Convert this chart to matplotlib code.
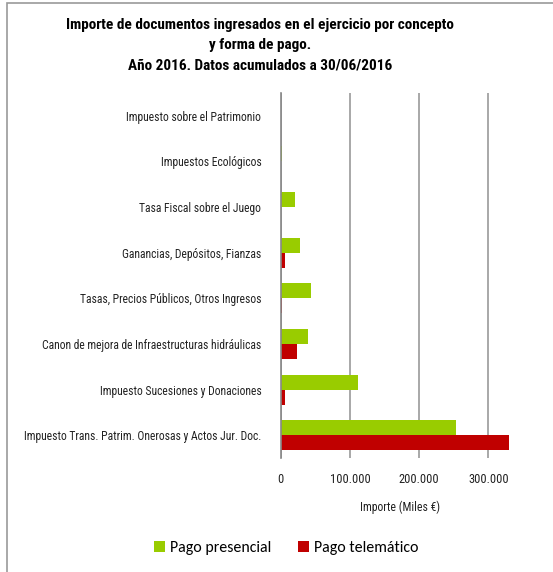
import matplotlib
matplotlib.use("Agg")
import matplotlib.pyplot as plt
from matplotlib.patches import Rectangle
import numpy as np

categories = [
    "Impuesto Trans. Patrim. Onerosas y Actos Jur. Doc.",
    "Impuesto Sucesiones y Donaciones",
    "Canon de mejora de Infraestructuras hidráulicas",
    "Tasas, Precios Públicos, Otros Ingresos",
    "Ganancias, Depósitos, Fianzas",
    "Tasa Fiscal sobre el Juego",
    "Impuestos Ecológicos",
    "Impuesto sobre el Patrimonio",
]
pago_presencial = [253300, 111700, 40000, 44300, 27500, 20700, 1500, 400]
pago_telematico = [330000, 6700, 23100, 2000, 6700, 500, 200, 100]
xticks = [0, 100000, 200000, 300000]
xtick_labels = ["0", "100.000", "200.000", "300.000"]

narrow = ["Roboto Condensed", "Liberation Sans", "DejaVu Sans"]
legend_font = ["Carlito", "Open Sans", "DejaVu Sans"]

fig = plt.figure(figsize=(5.53, 5.72), dpi=100)
fig.patches.append(Rectangle((7/553, -0.1), 2.0, 1.1 - 3/572, transform=fig.transFigure,
                             fill=False, edgecolor="#999999", linewidth=1.2))

ax = fig.add_axes([280.7/553, 1 - 458/572, 242.2/553, 365/572])
y = np.arange(len(categories))
h = 0.33
ax.barh(y + h/2, pago_presencial, height=h, color="#99CC00", label="Pago presencial")
ax.barh(y - h/2, pago_telematico, height=h, color="#C00000", label="Pago telemático")
ax.set_xlim(0, 350000)
ax.set_ylim(-0.5, len(categories) - 0.5)
ax.set_yticks(y)
ax.set_yticklabels(categories, fontfamily=narrow, fontsize=8.4, color="#222222")
ax.set_xticks(xticks)
ax.set_xticklabels(xtick_labels, fontfamily=narrow, fontsize=9, color="#222222")
ax.tick_params(axis="y", length=0, pad=14)
ax.tick_params(axis="x", length=0, pad=11)
for s in ["top", "right", "bottom"]:
    ax.spines[s].set_visible(False)
ax.spines["left"].set_color("#888888")
ax.spines["left"].set_linewidth(1.2)
ax.xaxis.grid(True, color="#999999", linewidth=1.2)
ax.set_axisbelow(True)

fig.text(400/553, 1 - 507/572, "Importe (Miles €)", ha="center", va="center",
         fontfamily=narrow, fontsize=8.5, color="#222222")

title_lines = ["Importe de documentos ingresados en el ejercicio por concepto",
               "y forma de pago.",
               "Año 2016. Datos acumulados a 30/06/2016"]
for i, t in enumerate(title_lines):
    fig.text(260/553, 1 - (25 + 20*i)/572, t, ha="center", va="center",
             fontfamily=narrow, fontweight="bold", fontsize=11, color="black")

fig.legend(loc="center", bbox_to_anchor=(286/553, 1 - 548/572), ncol=2, frameon=False,
           prop={"family": legend_font, "size": 11.4}, handlelength=0.7, handleheight=0.7,
           handletextpad=0.3, columnspacing=1.7)

fig.savefig("out.png", dpi=100)
